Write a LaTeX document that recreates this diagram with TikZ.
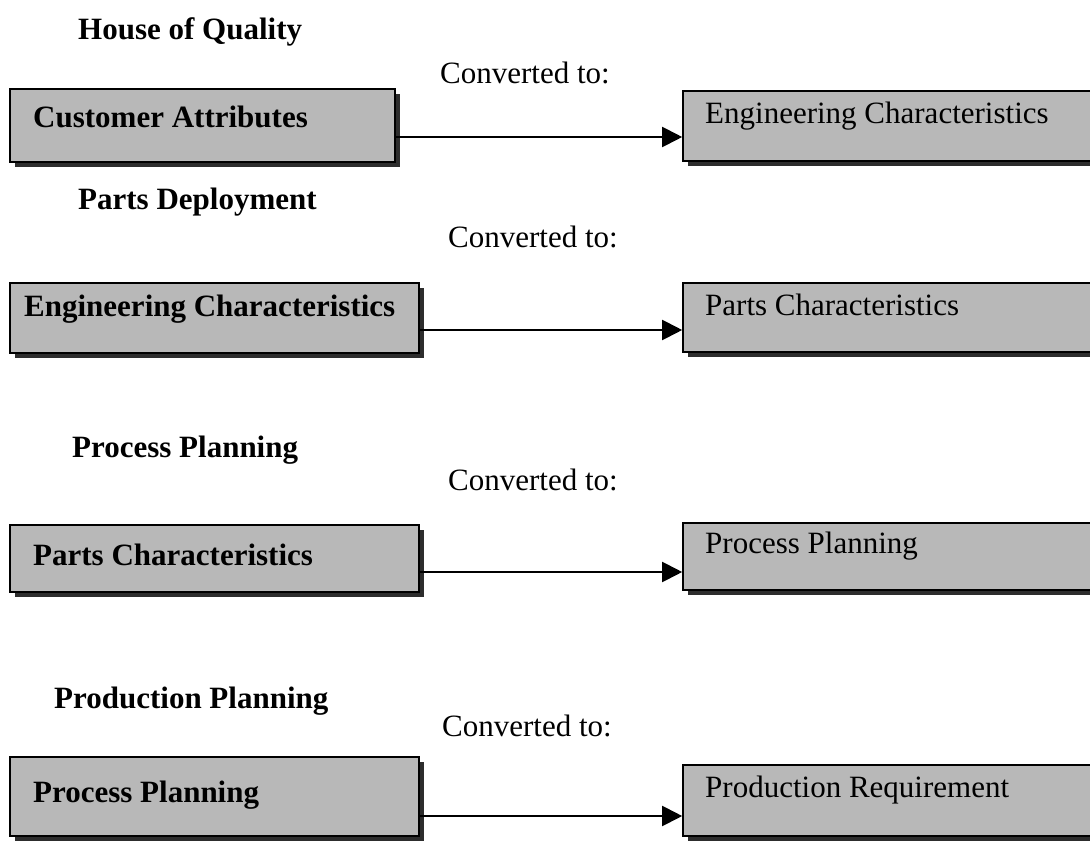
\documentclass[tikz,border=0pt]{standalone}
\usepackage{fontspec}
\setmainfont{Liberation Serif}
\usetikzlibrary{arrows.meta,fit}
\definecolor{boxgray}{RGB}{184,184,184}
\definecolor{shade}{RGB}{45,45,45}
\begin{document}
\begin{tikzpicture}[x=1pt,y=-1pt,
  txt/.style={font=\fontsize{31}{36}\selectfont, anchor=base west, inner sep=0pt},
  stage/.style={txt, font=\fontsize{31}{36}\selectfont\bfseries},
  conv/.style={txt},
  boxlabel/.style={txt, font=\fontsize{31}{36}\selectfont\bfseries},
  outlabel/.style={txt},
  flowbox/.style={draw=black, line width=1.6pt, fill=boxgray, inner sep=0pt},
  shadowbox/.style={fill=shade},
  link/.style={line width=2pt, -{Triangle[length=20pt,width=20pt]}}
]
\useasboundingbox (0,0) rectangle (1090,842);
\clip (0,0) rectangle (1090,842);

% drop shadows (right and bottom bands)
\foreach \xa/\ya/\xb/\yb in {10/89/395/162, 10/283/419/353, 10/525/419/592, 10/757/419/836,
                              683/91/1100/161, 683/283/1100/352, 683/523/1100/590, 683/765/1100/836}
  \fill[shadowbox] (\xa+5,\ya+5) rectangle (\xb+5,\yb+5);

% input boxes
\node[flowbox, fit={(10,89) (395,162)}] (s1) {};
\node[flowbox, fit={(10,283) (419,353)}] (s2) {};
\node[flowbox, fit={(10,525) (419,592)}] (s3) {};
\node[flowbox, fit={(10,757) (419,836)}] (s4) {};

% output boxes
\node[flowbox, fit={(683,91) (1100,161)}] (d1) {};
\node[flowbox, fit={(683,283) (1100,352)}] (d2) {};
\node[flowbox, fit={(683,523) (1100,590)}] (d3) {};
\node[flowbox, fit={(683,765) (1100,836)}] (d4) {};

% stage headings
\node[stage] (h1) at (78,40) {House of Quality};
\node[stage] (h2) at (78,210) {Parts Deployment};
\node[stage] (h3) at (72,457) {Process Planning};
\node[stage] (h4) at (54,708) {Production Planning};

% "Converted to:" labels
\node[conv] (c1) at (440,84) {Converted to:};
\node[conv] (c2) at (448,248) {Converted to:};
\node[conv] (c3) at (448,490) {Converted to:};
\node[conv] (c4) at (442,736) {Converted to:};

% box texts
\node[boxlabel] (s1t) at (33,128) {Customer Attributes};
\node[boxlabel] (s2t) at (24,317) {Engineering Characteristics};
\node[boxlabel] (s3t) at (33,565) {Parts Characteristics};
\node[boxlabel] (s4t) at (33,802) {Process Planning};
\node[outlabel] (d1t) at (705,124) {Engineering Characteristics};
\node[outlabel] (d2t) at (705,316) {Parts Characteristics};
\node[outlabel] (d3t) at (705,553) {Process Planning};
\node[outlabel] (d4t) at (705,797) {Production Requirement};

% conversion arrows
\draw[link] (s1.east |- 0,137) -- (d1.west |- 0,137);
\draw[link] (s2.east |- 0,330) -- (d2.west |- 0,330);
\draw[link] (s3.east |- 0,572) -- (d3.west |- 0,572);
\draw[link] (s4.east |- 0,816) -- (d4.west |- 0,816);
\end{tikzpicture}
\end{document}
